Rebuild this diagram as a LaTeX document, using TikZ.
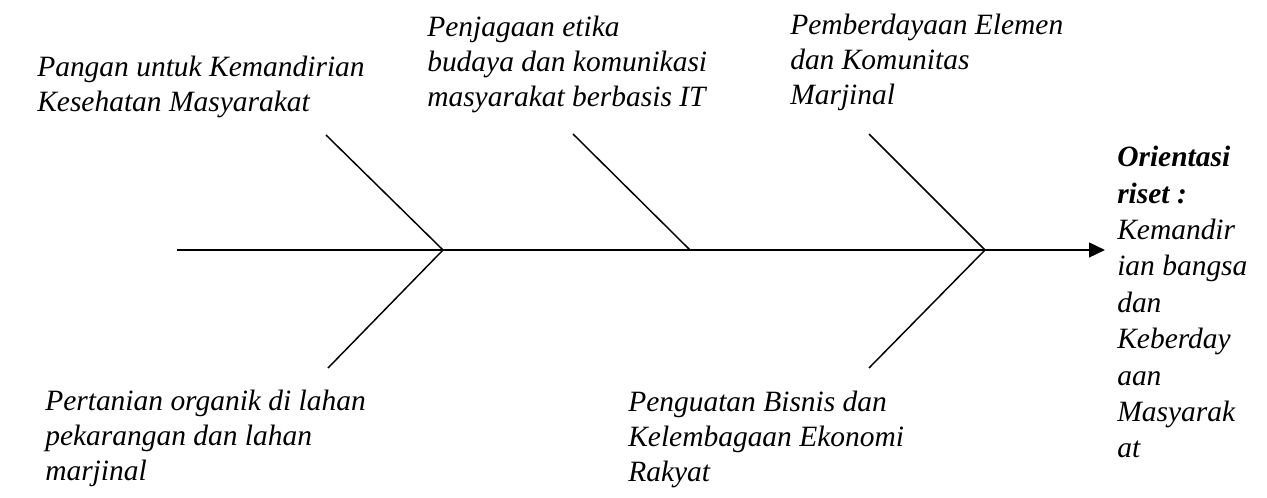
\documentclass[tikz,border=0pt]{standalone}
\usepackage{fontspec}
\setmainfont{Liberation Serif}
\usetikzlibrary{arrows.meta}
\begin{document}
\begin{tikzpicture}[x=0.75pt,y=-0.75pt,
  spine/.style={line width=1.9pt,-{Triangle[length=12pt,width=11pt]}},
  bone/.style={line width=1.1pt},
  lbl/.style={anchor=base west,inner sep=0pt,align=left,
    font=\fontsize{22.1}{26.6}\selectfont\itshape}]
\useasboundingbox (0,0) rectangle (1267,498);
% coordinates
\coordinate (s0) at (177,250);
\coordinate (tip) at (1105,250);
\coordinate (j1) at (443,250);
\coordinate (j2) at (690,250);
\coordinate (j3) at (985,250);
\coordinate (u1) at (326,135);
\coordinate (d1) at (328,368);
\coordinate (u2) at (573,134);
\coordinate (u3) at (869,134);
\coordinate (d3) at (869,368);
% spine and bones
\draw[spine] (s0) -- (tip);
\draw[bone] (u1) -- (j1) -- (d1);
\draw[bone] (u2) -- (j2);
\draw[bone] (u3) -- (j3) -- (d3);
% labels (anchored at the baseline of the last line)
\node[lbl] (t1) at (37,112) {Pangan untuk Kemandirian\\Kesehatan Masyarakat};
\node[lbl] (t2) at (427,107) {Penjagaan etika\\budaya dan komunikasi\\masyarakat berbasis IT};
\node[lbl] (t3) at (790,105) {Pemberdayaan Elemen\\dan Komunitas\\Marjinal};
\node[lbl] (b1) at (45,481) {Pertanian organik di lahan\\pekarangan dan lahan\\marjinal};
\node[lbl] (b2) at (628,482) {Penguatan Bisnis dan\\Kelembagaan Ekonomi\\Rakyat};
\node[lbl,font=\fontsize{22.1}{27.3}\selectfont\itshape] (goal) at (1117,458) {\textbf{Orientasi}\\\textbf{riset :}\\Kemandir\\ian bangsa\\dan\\Keberday\\aan\\Masyarak\\at};
\end{tikzpicture}
\end{document}
